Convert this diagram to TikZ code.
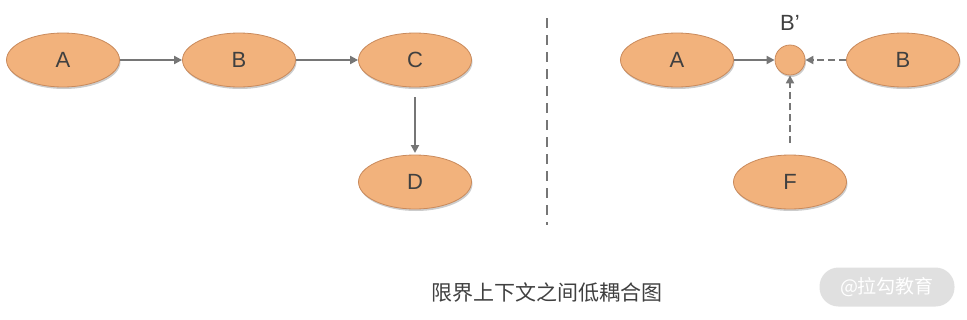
\documentclass[tikz,border=0pt]{standalone}
\usepackage{fontspec}
\setmainfont{Liberation Sans}
\newfontfamily\cjk{Noto Sans CJK SC}
\usetikzlibrary{shapes.geometric,arrows.meta,shadows}
\definecolor{nodefill}{HTML}{F2B27C}
\definecolor{nodeline}{HTML}{C98A5C}
\definecolor{arrowgray}{HTML}{767676}
\definecolor{txt}{HTML}{404040}
\tikzset{
  oval/.style={ellipse, draw=nodeline, fill=nodefill, line width=0.8pt,
    minimum width=113pt, minimum height=54pt, inner sep=0pt,
    font=\fontsize{22}{26}\selectfont, text=txt,
    drop shadow={shadow xshift=1pt, shadow yshift=-2pt, fill=black, opacity=0.2}},
  dot/.style={circle, draw=nodeline, fill=nodefill, line width=0.8pt,
    minimum size=30pt, inner sep=0pt,
    drop shadow={shadow xshift=1pt, shadow yshift=-2pt, fill=black, opacity=0.2}},
  conn/.style={draw=arrowgray, line width=2.8pt, -{Triangle[length=8pt,width=8pt]}},
  dconn/.style={conn, dash pattern=on 7pt off 4pt},
}
\begin{document}
\begin{tikzpicture}[x=1pt,y=-1pt]
\useasboundingbox (0,0) rectangle (967,319);
% left
\node[oval] (a1) at (63,60) {A};
\node[oval] (b1) at (239,60) {B};
\node[oval] (c1) at (415,60) {C};
\node[oval] (d1) at (415,182) {D};
\draw[conn] (a1) -- (b1);
\draw[conn] (b1) -- (c1);
\coordinate (cs) at (415,97);
\coordinate (de) at (415,153);
\draw[conn] (cs) -- (de);
% divider
\coordinate (t) at (547,18);
\coordinate (bt) at (547,225);
\draw[arrowgray, line width=2.8pt, dash pattern=on 10pt off 7pt] (t) -- (bt);
% right
\node[oval] (a2) at (677,60) {A};
\node[dot] (bp) at (790,60) {};
\node[font=\fontsize{22}{26}\selectfont, text=txt] (bpl) at (790,23) {B’};
\node[oval] (b2) at (903,60) {B};
\node[oval] (f2) at (790,182) {F};
\draw[conn] (a2) -- (bp);
\draw[dconn] (b2) -- (bp);
\coordinate (fs) at (790,143);
\draw[dconn] (fs) -- (bp);
% caption
\node[font=\cjk\fontsize{21}{25}\selectfont, text=txt] (cap) at (547,293) {限界上下文之间低耦合图};
\node[fill=black!12, rounded corners=19pt, minimum width=135pt, minimum height=39pt,
  text=white, font=\cjk\fontsize{19}{23}\selectfont] (wm) at (887,287) {@拉勾教育};
\end{tikzpicture}
\end{document}
